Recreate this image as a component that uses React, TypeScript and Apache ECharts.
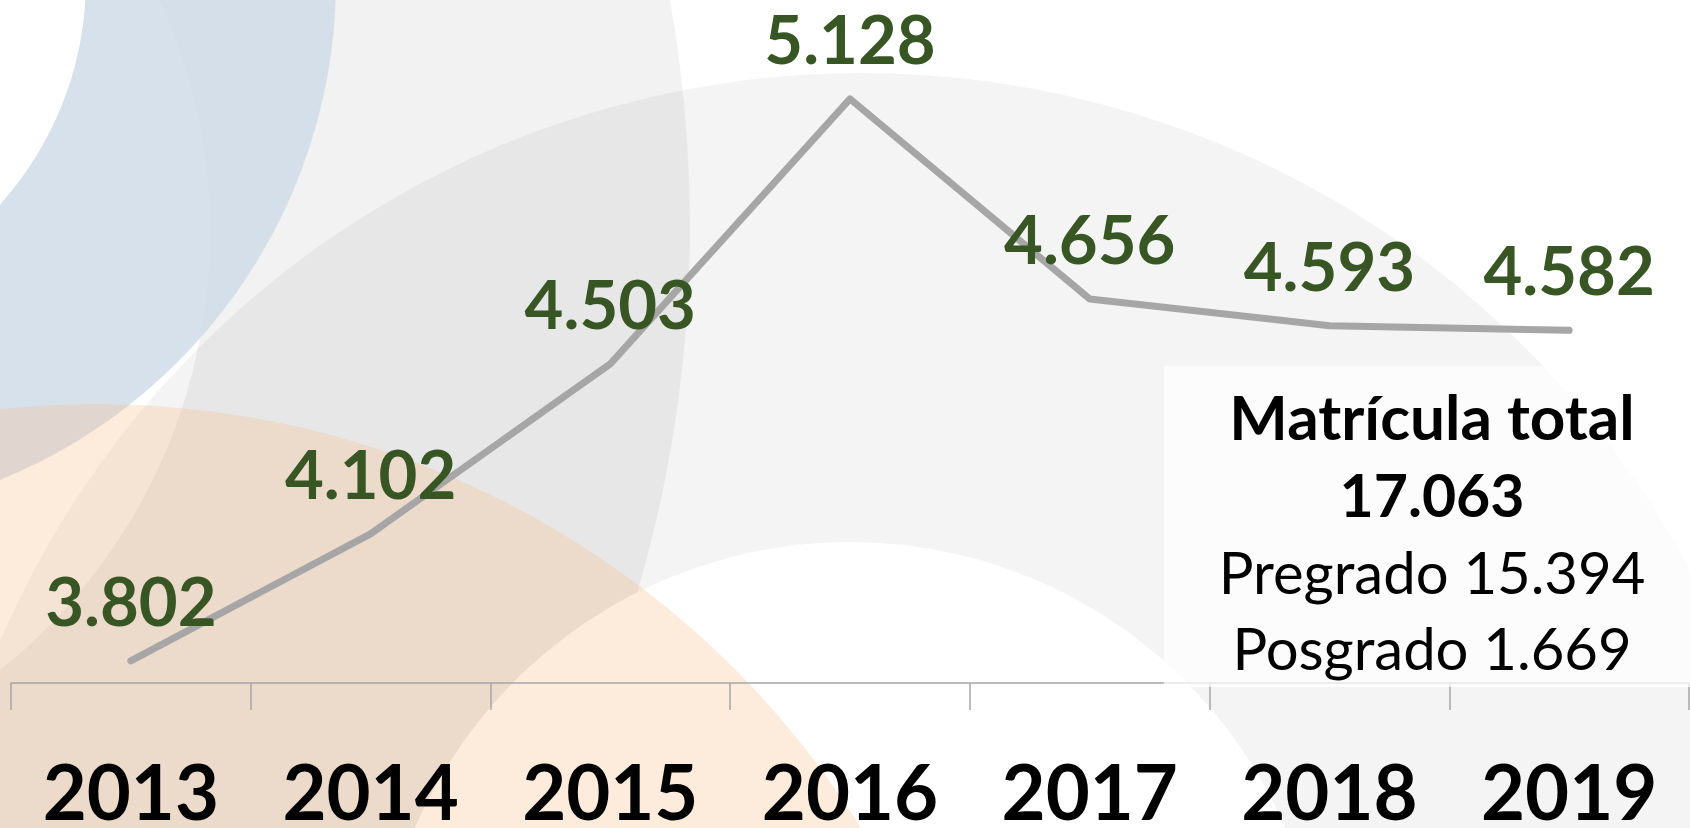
import React, { useEffect, useRef } from "react";
import * as echarts from "echarts";

const years = ["2013", "2014", "2015", "2016", "2017", "2018", "2019"];
const matricula = [3802, 4102, 4503, 5128, 4656, 4593, 4582];
const summaryTitle = "Matrícula total";
const summaryTotal = "17.063";
const summaryPregrado = "Pregrado 15.394";
const summaryPosgrado = "Posgrado 1.669";

const fmt = (v: number) => String(v).replace(/\B(?=(\d{3})+(?!\d))/g, ".");

const FONT = "Lato, 'Open Sans', sans-serif";

export default function App() {
  const ref = useRef<HTMLDivElement>(null);
  useEffect(() => {
    if (!ref.current) return;
    const chart = echarts.init(ref.current, undefined, { renderer: "svg" });
    const bg = (cx: number, cy: number, r: number, fill: string, z2: number) => ({
      type: "circle",
      silent: true,
      z: -10,
      z2,
      shape: { cx, cy, r },
      style: { fill },
    });
    const boxText = (text: string, y: number, bold: boolean, size: number) => ({
      type: "text",
      silent: true,
      z: 20,
      x: 1432,
      y,
      style: {
        text,
        fill: "#000000",
        fontFamily: FONT,
        fontWeight: bold ? "bold" : "normal",
        fontSize: size,
        align: "center",
        verticalAlign: "middle",
        textAlign: "center",
        textVerticalAlign: "middle",
      },
    });
    chart.setOption({
      animation: false,
      backgroundColor: "#ffffff",
      grid: { left: 11, right: 1, top: 26, bottom: 140, containLabel: false },
      xAxis: {
        type: "category",
        data: years,
        boundaryGap: true,
        axisLine: { show: true, lineStyle: { color: "#a6a6a6", width: 1.5 } },
        axisTick: { show: true, length: 27, lineStyle: { color: "#a6a6a6", width: 1.5 } },
        axisLabel: {
          color: "#000000",
          fontFamily: FONT,
          fontWeight: "bold",
          fontSize: 76,
          margin: 69,
        },
        splitLine: { show: false },
      },
      yAxis: {
        type: "value",
        min: 3750,
        max: 5300,
        show: false,
        splitLine: { show: false },
      },
      series: [
        {
          type: "line",
          data: matricula,
          symbol: "circle",
          symbolSize: 1,
          showSymbol: true,
          itemStyle: { color: "#a6a6a6" },
          lineStyle: { color: "#a6a6a6", width: 7, cap: "round", join: "round" },
          label: {
            show: true,
            position: "top",
            distance: 27,
            formatter: (p: any) => fmt(p.value),
            color: "#375623",
            fontFamily: FONT,
            fontWeight: "bold",
            fontSize: 67,
          },
          z: 3,
        },
      ],
      graphic: [
        bg(-604, 227, 1294, "rgba(0,0,0,0.05)", 1),
        bg(-350, 233, 560, "#ffffff", 2),
        bg(862, 1011, 938, "rgba(0,0,0,0.045)", 3),
        bg(850, 1016, 474, "#ffffff", 4),
        bg(-204, -20, 540, "rgba(207,220,233,0.85)", 5),
        bg(-250, -20, 336, "#ffffff", 6),
        bg(96, 1306, 902, "rgba(250,190,140,0.3)", 7),
        {
          type: "rect",
          silent: true,
          z: 15,
          shape: { x: 1164, y: 366, width: 526, height: 321 },
          style: { fill: "rgba(255,255,255,0.72)" },
        },
        boxText(summaryTitle, 416, true, 62),
        boxText(summaryTotal, 494, true, 59),
        boxText(summaryPregrado, 571, false, 58),
        boxText(summaryPosgrado, 647, false, 58),
      ],
    });
    return () => chart.dispose();
  }, []);
  return (
    <div
      ref={ref}
      style={{ position: "fixed", left: 0, top: 0, width: 1690, height: 828 }}
    />
  );
}
